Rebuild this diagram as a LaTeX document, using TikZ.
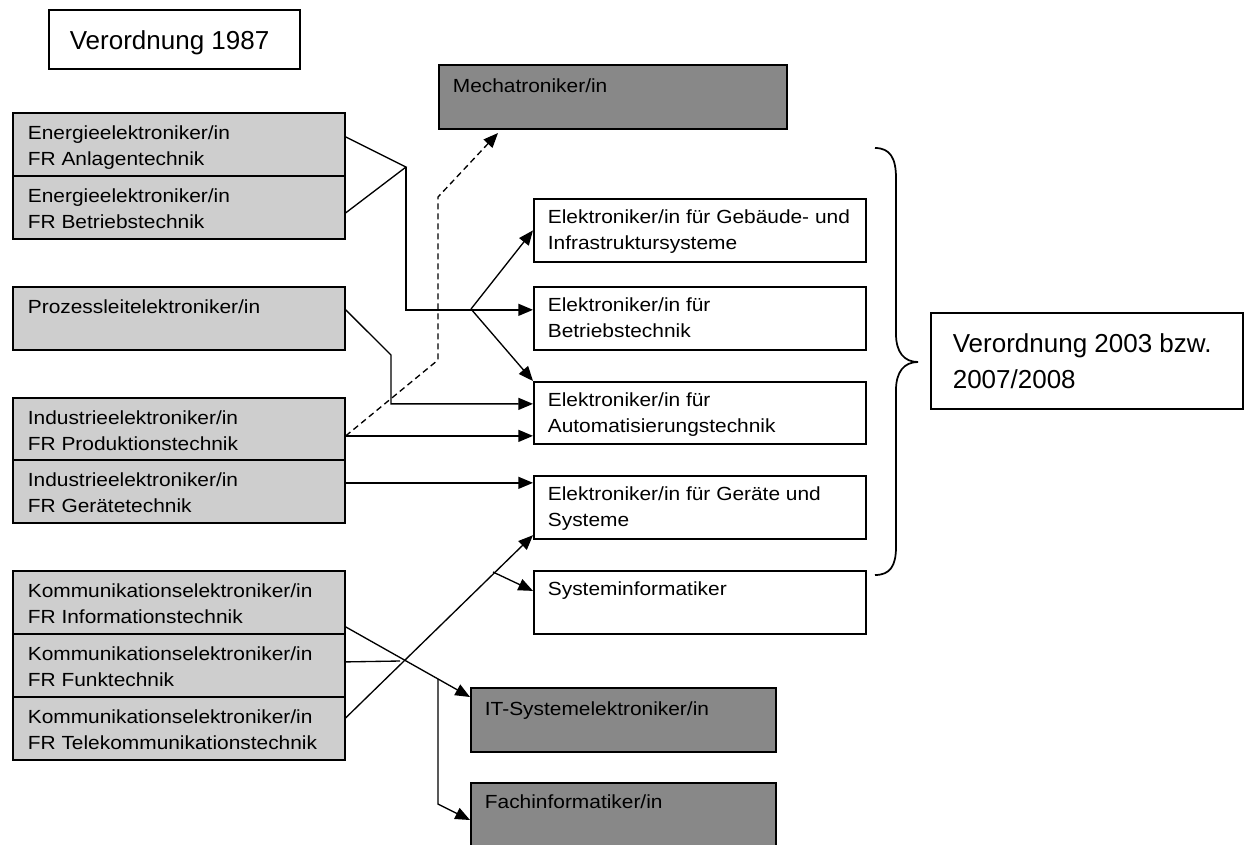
\documentclass[tikz,border=0pt]{standalone}
\usepackage{fontspec}
\setmainfont{Liberation Sans}
\newfontfamily\boxfont[FakeStretch=1.1]{Liberation Sans}
\usepackage{tikz}
\usetikzlibrary{arrows.meta}
\usepackage{xcolor}
\definecolor{oldgray}{RGB}{206, 206, 206}
\definecolor{newgray}{RGB}{136, 136, 136}

\newlength{\pxu}
\setlength{\pxu}{0.75pt}
% box text: width, height, left inset, first baseline, text
\newcommand{\cell}[5]{\parbox[c][#2\pxu][t]{#1\pxu}{\raggedright\leftskip=#3\pxu\relax\rule{0pt}{#4\pxu}#5}}

\begin{document}
\begin{tikzpicture}[x=0.75pt, y=-0.75pt, >={Triangle[length=11pt, width=9pt]}]
  \tikzset{
    oldbox/.style={draw, line width=1.3pt, fill=oldgray, inner sep=0pt, anchor=north west,
      font={\boxfont\fontsize{14.25pt}{19.5pt}\selectfont}},
    newbox/.style={oldbox, fill=white},
    darkbox/.style={oldbox, fill=newgray},
    notebox/.style={draw, line width=1.2pt, fill=white, inner sep=0pt, anchor=north west,
      font={\fontsize{19.5pt}{27pt}\selectfont}},
    link/.style={line width=1pt},
  }
  \useasboundingbox (0,0) rectangle (1246,844);

  % Verordnung 1987
  \node[notebox] (v87) at (48,9) {\cell{251}{59}{21}{40}{Verordnung 1987}};
  \node[oldbox] (ea) at (12,112) {\cell{332}{63}{15}{27}{Energieelektroniker/in\\FR Anlagentechnik}};
  \node[oldbox] (eb) at (12,175) {\cell{332}{63}{15}{27}{Energieelektroniker/in\\FR Betriebstechnik}};
  \node[oldbox] (pl) at (12,286) {\cell{332}{63}{15}{27}{Prozessleitelektroniker/in}};
  \node[oldbox] (ip) at (12,397) {\cell{332}{62}{15}{27}{Industrieelektroniker/in\\FR Produktionstechnik}};
  \node[oldbox] (ig) at (12,459) {\cell{332}{63}{15}{27}{Industrieelektroniker/in\\FR Gerätetechnik}};
  \node[oldbox] (ki) at (12,570) {\cell{332}{63}{15}{27}{Kommunikationselektroniker/in\\FR Informationstechnik}};
  \node[oldbox] (kf) at (12,633) {\cell{332}{63}{15}{27}{Kommunikationselektroniker/in\\FR Funktechnik}};
  \node[oldbox] (kt) at (12,696) {\cell{332}{63}{15}{27}{Kommunikationselektroniker/in\\FR Telekommunikationstechnik}};

  % Verordnung 2003 bzw. 2007/2008
  \node[darkbox] (mech) at (438,64) {\cell{348}{64}{14}{28}{Mechatroniker/in}};
  \node[newbox] (egi) at (533,198) {\cell{332}{63}{14}{25}{Elektroniker/in für Gebäude- und\\Infrastruktursysteme}};
  \node[newbox] (ebt) at (533,286) {\cell{332}{63}{14}{25}{Elektroniker/in für\\Betriebstechnik}};
  \node[newbox] (eat) at (533,381) {\cell{332}{62}{14}{25}{Elektroniker/in für\\Automatisierungstechnik}};
  \node[newbox] (egs) at (533,475) {\cell{332}{63}{14}{25}{Elektroniker/in für Geräte und\\Systeme}};
  \node[newbox] (si) at (533,570) {\cell{332}{63}{14}{25}{Systeminformatiker}};
  \node[darkbox] (it) at (470,687) {\cell{305}{64}{14}{28}{IT-Systemelektroniker/in}};
  \node[darkbox] (fi) at (470,782) {\cell{305}{64}{14}{26}{Fachinformatiker/in}};
  \node[notebox] (v03) at (930,312) {\cell{312}{96}{22}{40}{Verordnung 2003 bzw.\\2007/2008}};

  \draw[line width=1.3pt] (875,148) .. controls (890,148) and (896,158) .. (896,178)
    -- (896,334) .. controls (896,352) and (904,362) .. (918,362)
    .. controls (904,362) and (896,372) .. (896,390)
    -- (896,547) .. controls (896,566) and (890,575) .. (875,575);

  % junctions
  \coordinate (jE) at (406,167);
  \coordinate (jB) at (471,309);
  \coordinate (kP) at (391,355);
  \coordinate (dA) at (438,360);
  \coordinate (dB) at (438,197);
  \coordinate (mT) at (498,133);
  \coordinate (jS) at (493,572);
  \coordinate (xK) at (400,661);
  \coordinate (jF) at (438,679);
  \coordinate (jG) at (438,804);

  \draw[link] ([yshift=5.6pt]ea.east) -- (jE) -- ([yshift=-4.1pt]eb.east);
  \draw[link, ->] (jE) |- ([yshift=6.4pt]ebt.west);
  \draw[link, ->] (jB) -- (egi.west);
  \draw[link, ->] (jB) -- (eat.north west);
  \draw[link, ->] ([yshift=6.4pt]pl.east) -- (kP) |- ([yshift=6.75pt]eat.west);
  \draw[link, ->] ([yshift=-5.25pt]ip.east) -- ([yshift=-5.25pt]ip.east -| eat.west);
  \draw[link, dash pattern=on 4.5pt off 3pt, ->] ([yshift=-5.25pt]ip.east) -- (dA) -- (dB) -- (mT);
  \draw[link, ->] ([yshift=6.4pt]ig.east) -- ([yshift=6.4pt]ig.east -| egs.west);
  \draw[link, ->] ([yshift=7.9pt]kt.east) -- ([yshift=3.4pt]egs.south west);
  \draw[link, ->] (jS) -- ([yshift=8.6pt]si.west);
  \draw[link, ->] ([yshift=-18.4pt]ki.east) -- ([yshift=-7.5pt]it.north west);
  \draw[link, ->] (jF) -- (jG) -- ([yshift=-28.5pt]fi.north west);
  \draw[link] ([yshift=2.6pt]kf.east) -- (xK);
\end{tikzpicture}
\end{document}
